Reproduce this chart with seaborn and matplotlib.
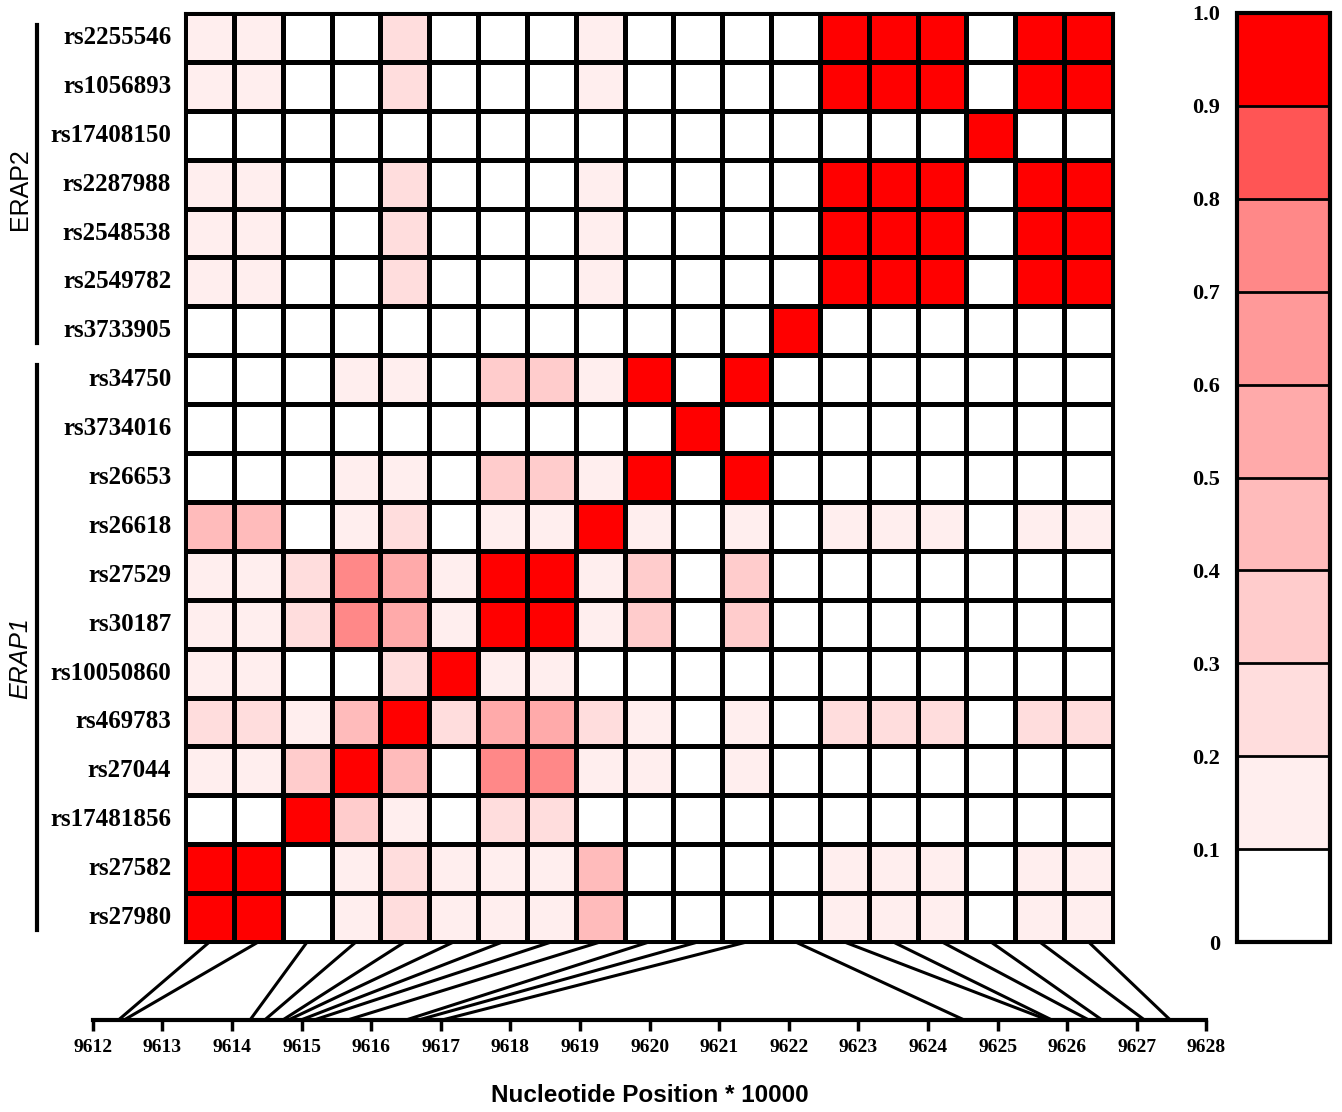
import numpy as np
import pandas as pd
import matplotlib
matplotlib.use('Agg')
import matplotlib.pyplot as plt
import seaborn as sns
from matplotlib.colors import ListedColormap, BoundaryNorm
from matplotlib.patches import ConnectionPatch
from matplotlib.transforms import blended_transform_factory

# SNPs, top to bottom (columns run in the reverse order)
snps = ['rs2255546', 'rs1056893', 'rs17408150', 'rs2287988', 'rs2548538',
        'rs2549782', 'rs3733905', 'rs34750', 'rs3734016', 'rs26653',
        'rs26618', 'rs27529', 'rs30187', 'rs10050860', 'rs469783',
        'rs27044', 'rs17481856', 'rs27582', 'rs27980']

# position of each SNP on the axis (x 10000), same order as snps
positions = [9627.48, 9627.11, 9626.50, 9626.31, 9625.78,
             9625.72, 9624.52, 9617.02, 9616.68, 9616.50,
             9615.66, 9615.18, 9614.99, 9614.81, 9614.73,
             9614.47, 9614.26, 9612.45, 9612.37]

# LD rows (columns: rs27980 ... rs2255546)
r_rs2255546 = [.15, .15, 0, 0, .25, 0, 0, 0, .15, 0, 0, 0, 0, 1, 1, 1, 0, 1, 1]
r_rs1056893 = [.15, .15, 0, 0, .25, 0, 0, 0, .15, 0, 0, 0, 0, 1, 1, 1, 0, 1, 1]
r_rs17408150 = [0, 0, 0, 0, 0, 0, 0, 0, 0, 0, 0, 0, 0, 0, 0, 0, 1, 0, 0]
r_rs2287988 = [.15, .15, 0, 0, .25, 0, 0, 0, .15, 0, 0, 0, 0, 1, 1, 1, 0, 1, 1]
r_rs2548538 = [.15, .15, 0, 0, .25, 0, 0, 0, .15, 0, 0, 0, 0, 1, 1, 1, 0, 1, 1]
r_rs2549782 = [.15, .15, 0, 0, .25, 0, 0, 0, .15, 0, 0, 0, 0, 1, 1, 1, 0, 1, 1]
r_rs3733905 = [0, 0, 0, 0, 0, 0, 0, 0, 0, 0, 0, 0, 1, 0, 0, 0, 0, 0, 0]
r_rs34750 = [0, 0, 0, .15, .15, 0, .35, .35, .15, 1, 0, 1, 0, 0, 0, 0, 0, 0, 0]
r_rs3734016 = [0, 0, 0, 0, 0, 0, 0, 0, 0, 0, 1, 0, 0, 0, 0, 0, 0, 0, 0]
r_rs26653 = [0, 0, 0, .15, .15, 0, .35, .35, .15, 1, 0, 1, 0, 0, 0, 0, 0, 0, 0]
r_rs26618 = [.45, .45, 0, .15, .25, 0, .15, .15, 1, .15, 0, .15, 0, .15, .15, .15, 0, .15, .15]
r_rs27529 = [.15, .15, .25, .75, .55, .15, 1, 1, .15, .35, 0, .35, 0, 0, 0, 0, 0, 0, 0]
r_rs30187 = [.15, .15, .25, .75, .55, .15, 1, 1, .15, .35, 0, .35, 0, 0, 0, 0, 0, 0, 0]
r_rs10050860 = [.15, .15, 0, 0, .25, 1, .15, .15, 0, 0, 0, 0, 0, 0, 0, 0, 0, 0, 0]
r_rs469783 = [.25, .25, .15, .45, 1, .25, .55, .55, .25, .15, 0, .15, 0, .25, .25, .25, 0, .25, .25]
r_rs27044 = [.15, .15, .35, 1, .45, 0, .75, .75, .15, .15, 0, .15, 0, 0, 0, 0, 0, 0, 0]
r_rs17481856 = [0, 0, 1, .35, .15, 0, .25, .25, 0, 0, 0, 0, 0, 0, 0, 0, 0, 0, 0]
r_rs27582 = [1, 1, 0, .15, .25, .15, .15, .15, .45, 0, 0, 0, 0, .15, .15, .15, 0, .15, .15]
r_rs27980 = [1, 1, 0, .15, .25, .15, .15, .15, .45, 0, 0, 0, 0, .15, .15, .15, 0, .15, .15]

rows = [r_rs2255546, r_rs1056893, r_rs17408150, r_rs2287988, r_rs2548538,
        r_rs2549782, r_rs3733905, r_rs34750, r_rs3734016, r_rs26653,
        r_rs26618, r_rs27529, r_rs30187, r_rs10050860, r_rs469783,
        r_rs27044, r_rs17481856, r_rs27582, r_rs27980]

cols = snps[::-1]
df = pd.DataFrame(rows, index=snps, columns=cols)
pos_map = dict(zip(snps, positions))

levels = np.round(np.arange(0, 1.01, 0.1), 1)
colors = ['#FFFFFF', '#FFEEEE', '#FFDDDD', '#FFCCCC', '#FFBBBB',
          '#FFAAAA', '#FF9999', '#FF8888', '#FF5555', '#FF0000']
cmap = ListedColormap(colors)
norm = BoundaryNorm(levels, cmap.N)

W, H = 1342, 1112
fig = plt.figure(figsize=(W / 100, H / 100), dpi=100)
ax = fig.add_axes([185 / W, 1 - 942 / H, 928 / W, 929 / H])
cax = fig.add_axes([1237 / W, 1 - 942 / H, 93 / W, 929 / H])
pax = fig.add_axes([92.7 / W, 1 - 1020 / H, (1206.5 - 92.7) / W, 0.05])

sns.heatmap(df, ax=ax, cmap=cmap, norm=norm, cbar_ax=cax,
            linewidths=2.2, linecolor='black', xticklabels=False,
            yticklabels=True, cbar_kws={'drawedges': True, 'ticks': levels})

serif = 'Liberation Serif'
ax.set_yticklabels(snps, rotation=0, fontfamily=serif, fontweight='bold', fontsize=18)
ax.tick_params(axis='y', length=0, pad=10)
ax.tick_params(axis='x', length=0)
ax.set_xlabel('')
ax.set_ylabel('')
for sp in ax.spines.values():
    sp.set_visible(True)
    sp.set_linewidth(2.2)

# gene groups on the left
tr = blended_transform_factory(ax.transAxes, ax.transData)
ax.plot([-0.1595, -0.1595], [0.25, 6.75], color='black', lw=3, transform=tr, clip_on=False)
ax.plot([-0.1595, -0.1595], [7.2, 18.75], color='black', lw=3, transform=tr, clip_on=False)
ax.text(-0.178, 3.6, 'ERAP2', rotation=90, ha='center', va='center', fontsize=18,
        fontfamily='Liberation Sans', transform=tr)
ax.text(-0.178, 13.2, 'ERAP1', rotation=90, ha='center', va='center', fontsize=18,
        fontfamily='Liberation Sans', style='italic', transform=tr)

# colour bar
cbar = ax.collections[0].colorbar
cbar.outline.set_linewidth(3)
cbar.dividers.set_color('black')
cbar.dividers.set_linewidth(2)
cax.yaxis.set_ticks_position('left')
cbar.set_ticks(levels)
cbar.set_ticklabels(['0'] + ['%.1f' % v for v in levels[1:]])
cax.tick_params(length=0, pad=12)
for t in cax.get_yticklabels():
    t.set_fontfamily(serif)
    t.set_fontweight('bold')
    t.set_fontsize(16)

# position axis
pax.set_xlim(9612, 9628)
pax.set_ylim(0, 1)
pax.patch.set_visible(False)
for s in ['top', 'left', 'right']:
    pax.spines[s].set_visible(False)
pax.spines['bottom'].set_linewidth(3)
pax.set_yticks([])
pax.set_xticks(range(9612, 9629))
pax.set_xticklabels([str(v) for v in range(9612, 9629)], fontfamily=serif,
                    fontweight='bold', fontsize=14)
pax.tick_params(axis='x', direction='out', length=8, width=2.5, pad=6)
pax.set_xlabel('Nucleotide Position * 10000', fontfamily='Liberation Sans',
               fontweight='bold', fontsize=17.5, labelpad=20)

# link each column to its nucleotide position
for i, snp in enumerate(cols):
    con = ConnectionPatch(xyA=(i + 0.5, len(snps)), coordsA=ax.transData,
                          xyB=(pos_map[snp], 0), coordsB=pax.transData,
                          color='black', lw=2.2)
    fig.add_artist(con)

fig.savefig('out.png', dpi=100)
